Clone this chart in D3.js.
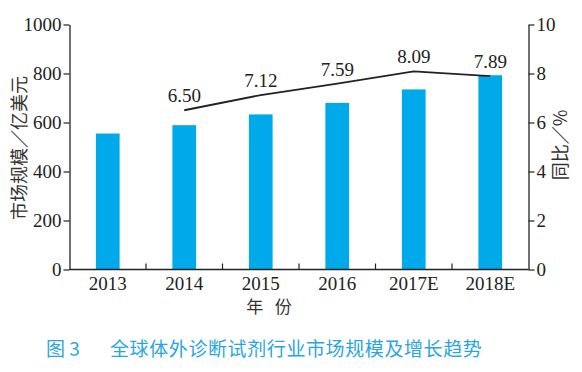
<!DOCTYPE html>
<html>
<head>
<meta charset="utf-8">
<script src="https://cdn.jsdelivr.net/npm/d3@7"></script>
<style>
  body { margin: 0; background: #fff; }
</style>
</head>
<body>
<div class="canvas"></div>
<script>
// Data
const years = ['2013', '2014', '2015', '2016', '2017E', '2018E'];
const marketSize = [555, 589, 633, 680, 735, 793];
const growthYears = ['2014', '2015', '2016', '2017E', '2018E'];
const growthRate = [6.50, 7.12, 7.59, 8.09, 7.89];
const leftTicks = [0, 200, 400, 600, 800, 1000];
const rightTicks = [0, 2, 4, 6, 8, 10];

// Dimensions
const dims = { width: 582, height: 372 };
const plot = { left: 69.5, right: 528.5, top: 24.5, bottom: 269.5 };
const blue = '#00a9e9';
const serif = 'Liberation Serif, Times New Roman, serif';
const sans = 'Noto Sans CJK SC, Noto Sans, sans-serif';

const svg = d3.select('.canvas')
    .append('svg')
    .attr('width', dims.width)
    .attr('height', dims.height);

// Scales
const x = d3.scaleBand()
    .domain(years)
    .range([plot.left, plot.right])
    .paddingInner(0.69)
    .paddingOuter(0.345);

const yLeft = d3.scaleLinear().domain([0, 1000]).range([plot.bottom, plot.top]);
const yRight = d3.scaleLinear().domain([0, 10]).range([plot.bottom, plot.top]);

// Bars
svg.append('g')
    .selectAll('rect')
    .data(marketSize)
    .enter()
    .append('rect')
        .attr('x', (d, i) => x(years[i]))
        .attr('y', d => yLeft(d))
        .attr('width', x.bandwidth())
        .attr('height', d => yLeft(0) - yLeft(d))
        .attr('fill', blue);

// Axes
const leftAxis = d3.axisLeft(yLeft).tickValues(leftTicks).tickFormat(d3.format('d'))
    .tickSize(6).tickSizeOuter(0).tickPadding(2);
const rightAxis = d3.axisRight(yRight).tickValues(rightTicks).tickFormat(d3.format('d'))
    .tickSize(6).tickSizeOuter(0).tickPadding(2);

const styleAxis = g => {
    g.select('.domain').attr('stroke', '#222').attr('stroke-width', 1.3);
    g.selectAll('.tick line').attr('stroke', '#222').attr('stroke-width', 1.2);
    g.selectAll('text')
        .style('font-family', serif)
        .style('font-size', '19px')
        .attr('fill', '#222');
};

svg.append('g')
    .attr('transform', `translate(${plot.left},0)`)
    .call(leftAxis)
    .call(styleAxis);

svg.append('g')
    .attr('transform', `translate(${plot.right},0)`)
    .call(rightAxis)
    .call(styleAxis);

// Bottom axis: baseline, ticks between bands, labels
const bottom = svg.append('g');
bottom.append('line')
    .attr('x1', plot.left).attr('x2', plot.right)
    .attr('y1', plot.bottom).attr('y2', plot.bottom)
    .attr('stroke', '#222').attr('stroke-width', 1.3);

const step = x.step();
bottom.selectAll('line.tk')
    .data(years.slice(1))
    .enter()
    .append('line')
        .attr('class', 'tk')
        .attr('x1', d => x(d) - step * x.paddingInner() / 2)
        .attr('x2', d => x(d) - step * x.paddingInner() / 2)
        .attr('y1', plot.bottom)
        .attr('y2', plot.bottom - 6)
        .attr('stroke', '#222').attr('stroke-width', 1.2);

bottom.selectAll('text')
    .data(years)
    .enter()
    .append('text')
        .attr('x', d => x(d) + x.bandwidth() / 2)
        .attr('y', 290)
        .attr('text-anchor', 'middle')
        .style('font-family', serif)
        .style('font-size', '19px')
        .attr('fill', '#222')
        .text(d => d);

// Growth line
const cx = d => x(d) + x.bandwidth() / 2;
const line = d3.line()
    .x((d, i) => cx(growthYears[i]))
    .y(d => yRight(d));

svg.append('path')
    .datum(growthRate)
    .attr('d', line)
    .attr('fill', 'none')
    .attr('stroke', '#222')
    .attr('stroke-width', 1.8);

svg.append('g')
    .selectAll('text')
    .data(growthRate)
    .enter()
    .append('text')
        .attr('x', (d, i) => cx(growthYears[i]))
        .attr('y', d => yRight(d) - 8)
        .attr('text-anchor', 'middle')
        .style('font-family', serif)
        .style('font-size', '19px')
        .attr('fill', '#222')
        .text(d => d.toFixed(2));

// Axis titles
svg.append('text')
    .attr('transform', 'translate(26,148) rotate(-90)')
    .attr('text-anchor', 'middle')
    .style('font-family', sans)
    .style('font-size', '18px')
    .attr('fill', '#333')
    .text('市场规模／亿美元');

svg.append('text')
    .attr('transform', 'translate(567,145) rotate(-90)')
    .attr('text-anchor', 'middle')
    .style('font-family', sans)
    .style('font-size', '18px')
    .attr('fill', '#333')
    .text('同比／%');

svg.append('text')
    .attr('x', 269)
    .attr('y', 313)
    .attr('text-anchor', 'middle')
    .style('font-family', sans)
    .style('font-size', '17px')
    .attr('fill', '#333')
    .style('white-space', 'pre')
    .text('年   份');

// Caption
const caption = svg.append('g')
    .style('font-family', sans)
    .style('font-size', '19px')
    .attr('fill', '#2aa6de');
caption.append('text')
    .attr('x', 46).attr('y', 356)
    .style('white-space', 'pre')
    .text('图 3');
caption.append('text')
    .attr('x', 110).attr('y', 356)
    .attr('letter-spacing', 0.6)
    .text('全球体外诊断试剂行业市场规模及增长趋势');
</script>
</body>
</html>
